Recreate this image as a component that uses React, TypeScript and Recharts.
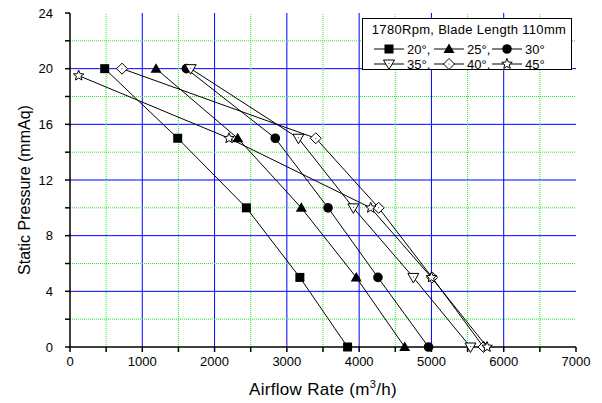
import React from "react";
import {
  ScatterChart,
  Scatter,
  XAxis,
  YAxis,
  CartesianGrid,
  ReferenceLine,
} from "recharts";

// static pressure levels (mmAq) and airflow (m3/h) read per blade angle
const pressureLevels = [20, 15, 10, 5, 0];
const pressure45 = [19.5, 15, 10, 5, 0];
const airflow20 = [480, 1490, 2440, 3180, 3840];
const airflow25 = [1190, 2320, 3200, 3960, 4630];
const airflow30 = [1610, 2840, 3570, 4260, 4960];
const airflow35 = [1670, 3160, 3920, 4750, 5540];
const airflow40 = [720, 3400, 4270, 5010, 5720];
const airflow45 = [120, 2200, 4160, 5000, 5770];

const angleLabels = ["20°", "25°", "30°", "35°", "40°", "45°"];
const legendTitle = "1780Rpm, Blade Length 110mm";

const xTicks = [0, 500, 1000, 1500, 2000, 2500, 3000, 3500, 4000, 4500, 5000, 5500, 6000, 6500, 7000];
const yTicks = [0, 2, 4, 6, 8, 10, 12, 14, 16, 18, 20, 22, 24];
const xMajorGrid = [1000, 2000, 3000, 4000, 5000, 6000];
const xMinorGrid = [500, 1500, 2500, 3500, 4500, 5500, 6500];
const yMajorGrid = [4, 8, 12, 16, 20];
const yMinorGrid = [2, 6, 10, 14, 18, 22];

const FONT = "'Liberation Sans', Arial, sans-serif";
const MINOR = "#22ee22";

type MarkerKind = "square" | "triangle" | "circle" | "down" | "diamond" | "star";

function markerPath(kind: MarkerKind, cx: number, cy: number) {
  const s = 4.5;
  switch (kind) {
    case "square":
      return <rect x={cx - s} y={cy - s} width={s * 2} height={s * 2} fill="#000" />;
    case "triangle":
      return <polygon points={`${cx},${cy - 5.5} ${cx + 5.5},${cy + 4} ${cx - 5.5},${cy + 4}`} fill="#000" />;
    case "circle":
      return <circle cx={cx} cy={cy} r={4.8} fill="#000" />;
    case "down":
      return (
        <g>
          <polygon points={`${cx - 5.5},${cy - 4} ${cx + 5.5},${cy - 4} ${cx},${cy + 5.5}`} fill="#fff" stroke="#000" strokeWidth={1} />
          <circle cx={cx} cy={cy - 0.5} r={0.5} fill="#000" />
        </g>
      );
    case "diamond":
      return (
        <g>
          <polygon points={`${cx},${cy - 5.5} ${cx + 5.5},${cy} ${cx},${cy + 5.5} ${cx - 5.5},${cy}`} fill="#fff" stroke="#000" strokeWidth={1} />
          <circle cx={cx} cy={cy} r={0.5} fill="#000" />
        </g>
      );
    case "star": {
      const pts: string[] = [];
      for (let i = 0; i < 10; i++) {
        const r = i % 2 === 0 ? 5.5 : 2.4;
        const a = -Math.PI / 2 + (i * Math.PI) / 5;
        pts.push(`${cx + r * Math.cos(a)},${cy + r * Math.sin(a)}`);
      }
      return <polygon points={pts.join(" ")} fill="#fff" stroke="#000" strokeWidth={1} />;
    }
  }
}

const makeShape = (kind: MarkerKind) => (props: any) => markerPath(kind, props.cx, props.cy);

const toPoints = (xs: number[], ys: number[]) => xs.map((x, i) => ({ x, y: ys[i] }));

const series: { name: string; kind: MarkerKind; data: { x: number; y: number }[] }[] = [
  { name: angleLabels[0], kind: "square", data: toPoints(airflow20, pressureLevels) },
  { name: angleLabels[1], kind: "triangle", data: toPoints(airflow25, pressureLevels) },
  { name: angleLabels[2], kind: "circle", data: toPoints(airflow30, pressureLevels) },
  { name: angleLabels[3], kind: "down", data: toPoints(airflow35, pressureLevels) },
  { name: angleLabels[4], kind: "diamond", data: toPoints(airflow40, pressureLevels) },
  { name: angleLabels[5], kind: "star", data: toPoints(airflow45, pressure45) },
];

function LegendBox() {
  const rows = [series.slice(0, 3), series.slice(3, 6)];
  const itemX = [12, 72, 130];
  return (
    <svg width={211} height={52} style={{ display: "block" }}>
      <rect x={0.5} y={0.5} width={209} height={51} fill="#fff" stroke="#000" strokeWidth={1} />
      <text x={107} y={16} textAnchor="middle" fontSize={13} fontFamily={FONT} letterSpacing={0.3}>
        {legendTitle}
      </text>
      {rows.map((row, r) =>
        row.map((s, i) => {
          const y = 31 + r * 15;
          const x0 = itemX[i];
          return (
            <g key={s.name}>
              <line x1={x0} y1={y} x2={x0 + 30} y2={y} stroke="#000" strokeWidth={1} />
              {markerPath(s.kind, x0 + 15, y)}
              <text x={x0 + 33} y={y + 4.5} fontSize={13} fontFamily={FONT}>
                {s.name}
                {i < 2 ? "," : ""}
              </text>
            </g>
          );
        })
      )}
    </svg>
  );
}

const XTitle = (props: any) => {
  const { viewBox } = props;
  const cx = viewBox.x + viewBox.width / 2;
  return (
    <text x={cx} y={395} textAnchor="middle" fontSize={17} fontFamily={FONT} fill="#000" letterSpacing={0.3}>
      <tspan>Airflow Rate (m</tspan>
      <tspan dy={-7} fontSize={11}>3</tspan>
      <tspan dy={7}>/h)</tspan>
    </text>
  );
};

const YTitle = (props: any) => {
  const { viewBox } = props;
  const cy = viewBox.y + viewBox.height / 2 + 10;
  return (
    <text
      x={30}
      y={cy}
      textAnchor="middle"
      fontSize={16}
      fontFamily={FONT}
      fill="#000"
      transform={`rotate(-90, 30, ${cy})`}
    >
      Static Pressure (mmAq)
    </text>
  );
};

const noShape = () => <g />;

export default function App() {
  const tickStyle = { fontSize: 13, fill: "#000", fontFamily: FONT };
  return (
    <div style={{ position: "absolute", left: 0, top: 0, width: 602, height: 403, background: "#fff" }}>
      <ScatterChart width={602} height={403} margin={{ top: 13, right: 26, left: 0, bottom: 0 }}>
        {xMinorGrid.map((v) => (
          <ReferenceLine key={`vx${v}`} x={v} xAxisId="b" yAxisId="l" stroke={MINOR} strokeDasharray="1 1" />
        ))}
        {yMinorGrid.map((v) => (
          <ReferenceLine key={`hy${v}`} y={v} xAxisId="b" yAxisId="l" stroke={MINOR} strokeDasharray="1 1" />
        ))}
        <CartesianGrid
          xAxisId="b"
          yAxisId="l"
          stroke="#0000ff"
          verticalValues={xMajorGrid}
          horizontalValues={yMajorGrid}
        />
        <XAxis
          xAxisId="b"
          type="number"
          dataKey="x"
          domain={[0, 7000]}
          ticks={xTicks}
          tickFormatter={(v: number) => (v % 1000 === 0 ? String(v) : "")}
          height={56}
          tickSize={5}
          tickMargin={5}
          tick={tickStyle}
          stroke="#000"
          strokeWidth={1.5}
          interval={0}
          label={<XTitle />}
        />
        <XAxis
          xAxisId="t"
          orientation="top"
          type="number"
          dataKey="x"
          domain={[0, 7000]}
          allowDataOverflow
          ticks={xTicks}
          tickFormatter={() => ""}
          mirror
          tickSize={5}
          height={0}
          stroke="#000"
          strokeWidth={1.5}
          interval={0}
        />
        <YAxis
          yAxisId="l"
          type="number"
          dataKey="y"
          domain={[0, 24]}
          ticks={yTicks}
          tickFormatter={(v: number) => (v % 4 === 0 ? String(v) : "")}
          width={70}
          tickSize={5}
          tickMargin={12}
          tick={tickStyle}
          stroke="#000"
          strokeWidth={1.5}
          interval={0}
          label={<YTitle />}
        />
        <YAxis
          yAxisId="r"
          orientation="right"
          type="number"
          dataKey="y"
          domain={[0, 24]}
          allowDataOverflow
          ticks={yTicks}
          tickFormatter={() => ""}
          mirror
          tickSize={5}
          width={0}
          stroke="#000"
          strokeWidth={1.5}
          interval={0}
        />
        <Scatter
          name="frame"
          data={series[0].data}
          xAxisId="t"
          yAxisId="r"
          shape={noShape}
          legendType="none"
          isAnimationActive={false}
        />
        {series.map((s) => (
          <Scatter
            key={s.name}
            name={s.name}
            data={s.data}
            xAxisId="b"
            yAxisId="l"
            line={{ stroke: "#000", strokeWidth: 1 }}
            lineType="joint"
            shape={makeShape(s.kind)}
            isAnimationActive={false}
          />
        ))}
      </ScatterChart>
      <div style={{ position: "absolute", left: 362, top: 18 }}>
        <LegendBox />
      </div>
    </div>
  );
}
